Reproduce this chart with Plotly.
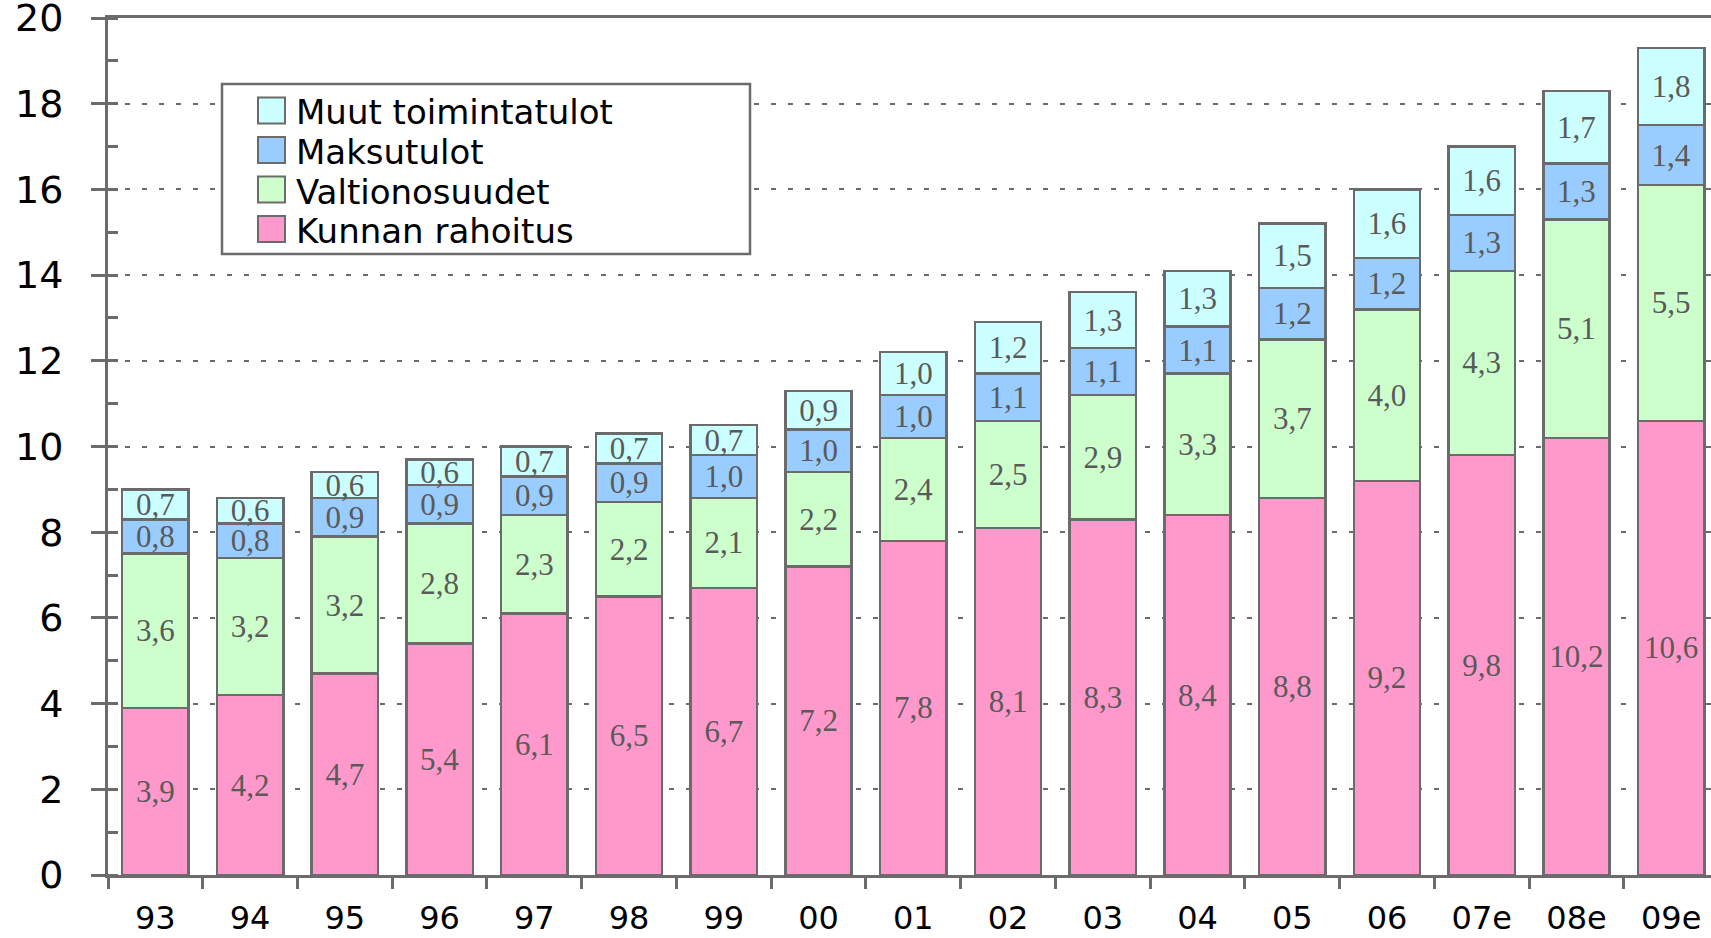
import plotly.graph_objects as go

# ---------------- data ----------------
years = ["93", "94", "95", "96", "97", "98", "99", "00", "01", "02", "03",
         "04", "05", "06", "07e", "08e", "09e"]
kunnan_rahoitus = [3.9, 4.2, 4.7, 5.4, 6.1, 6.5, 6.7, 7.2, 7.8, 8.1, 8.3,
                   8.4, 8.8, 9.2, 9.8, 10.2, 10.6]
valtionosuudet = [3.6, 3.2, 3.2, 2.8, 2.3, 2.2, 2.1, 2.2, 2.4, 2.5, 2.9,
                  3.3, 3.7, 4.0, 4.3, 5.1, 5.5]
maksutulot = [0.8, 0.8, 0.9, 0.9, 0.9, 0.9, 1.0, 1.0, 1.0, 1.1, 1.1,
              1.1, 1.2, 1.2, 1.3, 1.3, 1.4]
muut_toimintatulot = [0.7, 0.6, 0.6, 0.6, 0.7, 0.7, 0.7, 0.9, 1.0, 1.2, 1.3,
                      1.3, 1.5, 1.6, 1.6, 1.7, 1.8]

series = [
    ("Kunnan rahoitus", kunnan_rahoitus, "#FF99CC"),
    ("Valtionosuudet", valtionosuudet, "#CCFFCC"),
    ("Maksutulot", maksutulot, "#99CCFF"),
    ("Muut toimintatulot", muut_toimintatulot, "#CCFFFF"),
]

# ---------------- layout constants ----------------
W, H = 1711, 938
ML, MR, MT, MB = 108, 0, 18, 63
PW, PH = W - ML - MR, H - MT - MB
EDGE = "#6b6b6b"

fig = go.Figure()
for name, vals, col in series:
    fig.add_trace(go.Bar(
        x=years, y=vals, name=name, showlegend=False,
        marker=dict(color=col, line=dict(color=EDGE, width=2.5)),
        texttemplate="%{y:.1f}", textposition="inside",
        insidetextanchor="middle", constraintext="none", textangle=0,
        textfont=dict(family="Liberation Serif", size=31, color="#5a5a5a"),
        hoverinfo="skip",
    ))

# ---------------- manual legend (pixel geometry -> paper coords) ----------------
def px(x):
    return (x - ML) / PW

def py(y):
    return (H - MB - y) / PH

shapes = [dict(type="rect", xref="paper", yref="paper",
               x0=px(222), x1=px(750), y0=py(254), y1=py(84),
               fillcolor="white", line=dict(color=EDGE, width=2.5))]
annotations = []
legend_rows = [("Muut toimintatulot", "#CCFFFF", 110.5),
               ("Maksutulot", "#99CCFF", 150),
               ("Valtionosuudet", "#CCFFCC", 189.5),
               ("Kunnan rahoitus", "#FF99CC", 229)]
for name, col, yc in legend_rows:
    shapes.append(dict(type="rect", xref="paper", yref="paper",
                       x0=px(258), x1=px(285), y0=py(yc + 13), y1=py(yc - 13),
                       fillcolor=col, line=dict(color=EDGE, width=2)))
    annotations.append(dict(text=name, xref="paper", yref="paper",
                            x=px(295), y=py(yc + 2), xanchor="left", yanchor="middle",
                            showarrow=False, borderpad=0,
                            font=dict(family="DejaVu Sans", size=34, color="black")))

fig.update_layout(
    width=W, height=H,
    margin=dict(l=ML, r=MR, t=MT, b=MB, pad=0),
    barmode="stack", bargap=0.3,
    separators=",.",
    plot_bgcolor="white", paper_bgcolor="white",
    showlegend=False,
    shapes=shapes, annotations=annotations,
    xaxis=dict(
        type="category", range=[-0.5, 16.42], automargin=False,
        showline=True, linecolor=EDGE, linewidth=3, mirror=True,
        ticks="outside", tickson="boundaries", ticklen=11, tickwidth=2.5,
        tickcolor=EDGE, showgrid=False,
        tickfont=dict(family="DejaVu Sans", size=32, color="black"),
        ticklabelstandoff=13,
    ),
    yaxis=dict(
        range=[0, 20], tickmode="linear", tick0=0, dtick=2, automargin=False,
        showline=True, linecolor=EDGE, linewidth=3,
        ticks="outside", ticklen=14, tickwidth=2.5, tickcolor=EDGE,
        minor=dict(ticks="inside", dtick=1, ticklen=10, tickwidth=2.5,
                   tickcolor=EDGE, showgrid=False),
        showgrid=True, gridcolor=EDGE, gridwidth=2, griddash="5px,12px",
        zeroline=False, ticklabeloverflow="allow",
        tickfont=dict(family="DejaVu Sans", size=38, color="black"),
        ticklabelstandoff=20,
    ),
)

fig.write_html("out.html",
               config={"displayModeBar": False},
               post_script="document.body.style.margin='0';document.body.style.overflow='hidden';")
